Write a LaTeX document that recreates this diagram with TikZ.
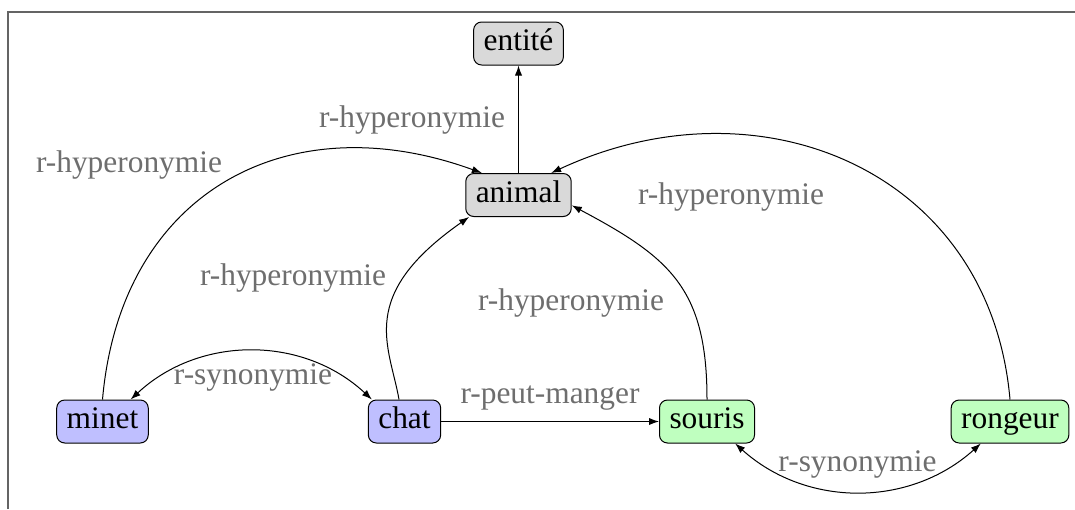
\documentclass[tikz,border=0pt]{standalone}
\usepackage{fontspec}
\setmainfont{Liberation Serif}
\usetikzlibrary{arrows.meta}
\definecolor{lblgray}{RGB}{110,110,110}
\definecolor{framegray}{RGB}{100,100,100}
\definecolor{boxgray}{RGB}{217,217,217}
\definecolor{boxblue}{RGB}{191,191,255}
\definecolor{boxgreen}{RGB}{191,255,191}
\begin{document}
\begin{tikzpicture}[x=0.5pt,y=-0.5pt,
  concept/.style={draw=black, line width=0.5pt, rounded corners=4pt,
    inner xsep=5pt, inner ysep=3.7pt, text height=10.7pt, text depth=3.4pt,
    font=\fontsize{15.7}{19}\selectfont},
  lbl/.style={text=lblgray, font=\fontsize{15.7}{19}\selectfont, anchor=base, inner sep=0pt},
  rel/.style={draw=black, line width=0.5pt, -{Latex[length=5pt,width=3.6pt]}},
  sym/.style={draw=black, line width=0.5pt, {Latex[length=5pt,width=3.6pt]}-{Latex[length=5pt,width=3.6pt]}}]
\useasboundingbox (0,0) rectangle (1075,509);
\draw[framegray, line width=0.7pt] (8,509) -- (8,12) -- (1075,12);

\node[concept, fill=boxgray] (entite) at (518.5,43.5) {entité};
\node[concept, fill=boxgray] (animal) at (518.5,195) {animal};
\node[concept, fill=boxblue] (minet) at (102.5,421.5) {minet};
\node[concept, fill=boxblue] (chat) at (404.5,421.5) {chat};
\node[concept, fill=boxgreen] (souris) at (707,421.5) {souris};
\node[concept, fill=boxgreen] (rongeur) at (1010,421.5) {rongeur};

\draw[rel] (animal) -- (entite) node[lbl] at (412,127) {r-hyperonymie};
\draw[rel] (minet.north) to[out=85,in=160,looseness=1.2] (animal.149) node[lbl] at (129,172) {r-hyperonymie};
\draw[rel] (chat.104) to[out=100,in=215,out looseness=0.72,in looseness=1.8] (animal.204) node[lbl] at (293,285) {r-hyperonymie};
\draw[rel] (souris.north) to[out=90,in=-28,looseness=1.2] (animal.349) node[lbl] at (571,310) {r-hyperonymie};
\draw[rel] (rongeur.north) to[out=95,in=25,looseness=1.15] (animal.34) node[lbl] at (731,204) {r-hyperonymie};
\draw[sym] (minet.38) to[bend left=43] (chat.146) node[lbl] at (253,384) {r-synonymie};
\draw[rel] (chat) -- (souris) node[lbl] at (550,403) {r-peut-manger};
\draw[sym] (souris.322) to[bend right=42] (rongeur.217) node[lbl] at (857.5,471) {r-synonymie};
\end{tikzpicture}
\end{document}
